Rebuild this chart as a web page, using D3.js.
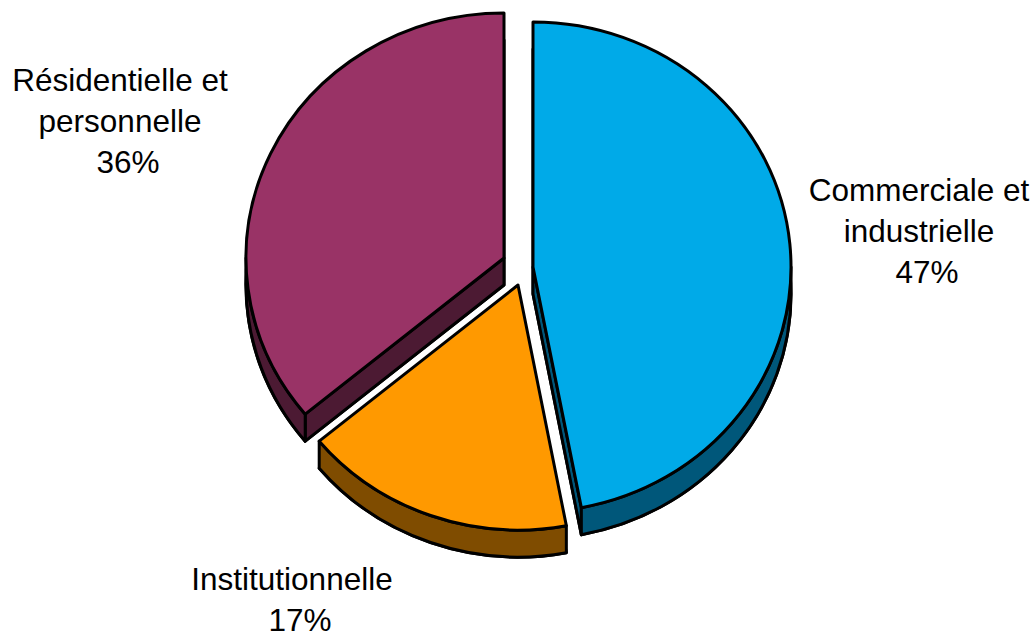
<!DOCTYPE html>
<html>
<head>
<meta charset="utf-8">
<script src="https://cdn.jsdelivr.net/npm/d3@7"></script>
<style>
  body { margin: 0; background: #fff; }
  text { font-family: "Liberation Sans", Arial, sans-serif; font-size: 31.5px; fill: #000; }
</style>
</head>
<body>
<svg id="chart"></svg>
<script>
// data
const categories = ["Commerciale et industrielle", "Institutionnelle", "Résidentielle et personnelle"];
const labelLines = [["Commerciale et", "industrielle"], ["Institutionnelle"], ["Résidentielle et", "personnelle"]];
const values = [47, 17, 36];

// look
const topColors = ["#00AAE8", "#FF9900", "#993366"];
const sideColors = ["#00577A", "#7F4C00", "#4C1A33"];

var size = { width: 1034, height: 637 };
var cx = 518, cy = 266;      // pie centre before explosion
var rx = 258, ry = 245;      // top face is a slightly flat ellipse
var depth = 27;
// explosion shift of each slice
var explode = [[15, 1], [0, 19], [-14, -8]];
// label anchors (centre x, first baseline y)
var labelPos = [[919, 201], [292, 590], [120, 91]];
var lineGap = 41;

var svg = d3.select("#chart")
    .attr("width", size.width)
    .attr("height", size.height);

svg.append("rect")
    .attr("width", size.width)
    .attr("height", size.height)
    .attr("fill", "white");

var arcs = d3.pie().sort(null).value(d => d)(values);

function pt(a, ox, oy) {
    return [cx + ox + rx * Math.sin(a), cy + oy - ry * Math.cos(a)];
}

function facePath(s, ox, oy) {
    var p0 = pt(s.startAngle, ox, oy), p1 = pt(s.endAngle, ox, oy);
    var large = (s.endAngle - s.startAngle) > Math.PI ? 1 : 0;
    return "M" + (cx + ox) + "," + (cy + oy) +
        "L" + p0 + "A" + rx + "," + ry + " 0 " + large + " 1 " + p1 + "Z";
}

function outerSide(s, ox, oy) {
    var lo = Math.max(s.startAngle, Math.PI / 2);
    var hi = Math.min(s.endAngle, 3 * Math.PI / 2);
    if (hi <= lo) return null;
    var a = pt(lo, ox, oy), b = pt(hi, ox, oy);
    var a2 = pt(lo, ox, oy + depth), b2 = pt(hi, ox, oy + depth);
    return "M" + a + "A" + rx + "," + ry + " 0 0 1 " + b +
        "L" + b2 + "A" + rx + "," + ry + " 0 0 0 " + a2 + "Z";
}

function edgeSide(a, ox, oy) {
    var c = [cx + ox, cy + oy], q = pt(a, ox, oy);
    return "M" + c + "L" + q + "L" + [q[0], q[1] + depth] + "L" + [c[0], c[1] + depth] + "Z";
}

var slices = svg.append("g")
    .selectAll(".slice")
    .data(arcs)
    .enter()
    .append("g")
    .attr("class", "slice")
    .attr("stroke", "black")
    .attr("stroke-width", 3)
    .attr("stroke-linejoin", "round");

slices.each(function(s, i) {
    var g = d3.select(this);
    var ox = explode[i][0], oy = explode[i][1];

    // bottom face
    g.append("path")
        .attr("d", facePath(s, ox, oy + depth))
        .attr("fill", sideColors[i]);

    // radial sides that face the viewer
    if (Math.sin(s.endAngle) > 1e-6) {
        g.append("path").attr("d", edgeSide(s.endAngle, ox, oy)).attr("fill", sideColors[i]);
    }
    if (Math.sin(s.startAngle) < -1e-6) {
        g.append("path").attr("d", edgeSide(s.startAngle, ox, oy)).attr("fill", sideColors[i]);
    }

    // rim
    var rim = outerSide(s, ox, oy);
    if (rim) {
        g.append("path").attr("d", rim).attr("fill", sideColors[i]);
    }

    // top face
    g.append("path")
        .attr("d", facePath(s, ox, oy))
        .attr("fill", topColors[i]);
});

// labels
var labels = svg.append("g")
    .selectAll(".label")
    .data(arcs)
    .enter()
    .append("g")
    .attr("class", "label");

labels.each(function(s, i) {
    var g = d3.select(this);
    var x = labelPos[i][0], y = labelPos[i][1];
    labelLines[i].forEach(function(line, k) {
        g.append("text")
            .attr("x", x)
            .attr("y", y + k * lineGap)
            .attr("text-anchor", "middle")
            .text(line);
    });
    var pct = Math.round(100 * s.value / d3.sum(values)) + "%";
    g.append("text")
        .attr("x", x + 8)
        .attr("y", y + labelLines[i].length * lineGap)
        .attr("text-anchor", "middle")
        .text(pct);
});
</script>
</body>
</html>
